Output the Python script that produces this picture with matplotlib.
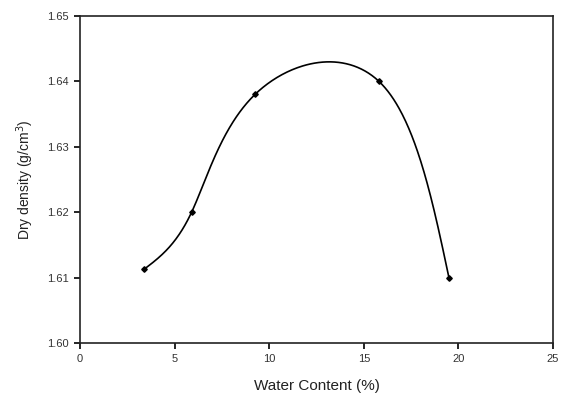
import numpy as np
import matplotlib
matplotlib.use("Agg")
import matplotlib.pyplot as plt

plt.rcParams["font.family"] = ["Liberation Sans", "DejaVu Sans"]

water = [3.4, 5.9, 9.25, 15.8, 19.5]
density = [1.6113, 1.620, 1.638, 1.640, 1.610]
xticks = [0, 5, 10, 15, 20, 25]
yticks = [1.60, 1.61, 1.62, 1.63, 1.64, 1.65]


def nat_spline(t, v, ts):
    n = len(t)
    h = np.diff(t)
    A = np.zeros((n, n)); b = np.zeros(n)
    A[0, 0] = A[-1, -1] = 1
    for i in range(1, n - 1):
        A[i, i-1] = h[i-1]; A[i, i] = 2*(h[i-1] + h[i]); A[i, i+1] = h[i]
        b[i] = 3*((v[i+1] - v[i])/h[i] - (v[i] - v[i-1])/h[i-1])
    c = np.linalg.solve(A, b)
    i = np.clip(np.searchsorted(t, ts) - 1, 0, n - 2)
    d = (c[i+1] - c[i]) / (3*h[i])
    bb = (v[i+1] - v[i])/h[i] - h[i]*(2*c[i] + c[i+1])/3
    dx = ts - t[i]
    return v[i] + bb*dx + c[i]*dx**2 + d*dx**3


def param_spline(x, y, alpha=0.0, n=400):
    # parametric spline, knots from screen-like chord lengths
    x = np.asarray(x, float); y = np.asarray(y, float)
    px = x / 25 * 473
    py = (y - 1.60) / 0.05 * 327
    seg = np.hypot(np.diff(px), np.diff(py)) ** alpha
    t = np.concatenate([[0], np.cumsum(seg)])
    ts = np.linspace(0, t[-1], n)
    return nat_spline(t, x, ts), nat_spline(t, y, ts)


fig = plt.figure(figsize=(5.62, 3.98), dpi=100)
ax = fig.add_axes([0.1423, 0.138, 0.8417, 0.822])

cx, cy = param_spline(water, density)
ax.plot(cx, cy, color="black", lw=1.2)
ax.plot(water, density, "D", color="black", ms=2.8)

ax.set_xlim(0, 25)
ax.set_ylim(1.60, 1.65)
ax.set_xticks(xticks)
ax.set_yticks(yticks)
ax.set_xticklabels([str(v) for v in xticks])
ax.set_yticklabels([f"{v:.2f}" for v in yticks])
ax.tick_params(direction="out", length=4, width=1.2, labelsize=8, pad=4,
               labelcolor="#333333")
for s in ax.spines.values():
    s.set_linewidth(1.2)
    s.set_color("#222222")

ax.set_xlabel("Water Content (%)", fontsize=11, labelpad=11, color="#222222")
ax.set_ylabel("Dry density (g/cm$^3$)", fontsize=10, labelpad=8, color="#222222")

fig.savefig("out.png", dpi=100)
